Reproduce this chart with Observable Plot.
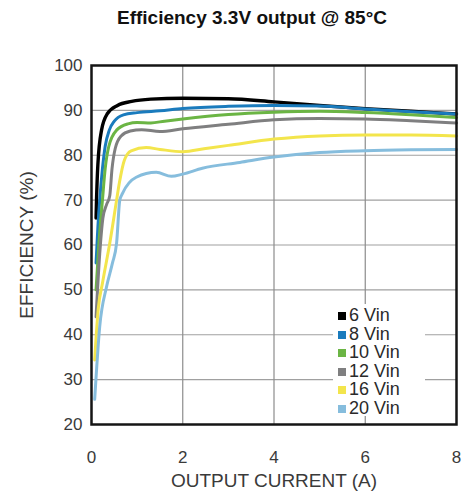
<!DOCTYPE html>
<html>
<head>
<meta charset="utf-8">
<script src="https://cdn.jsdelivr.net/npm/d3@7"></script>
<script src="https://cdn.jsdelivr.net/npm/@observablehq/plot@0.6"></script>
<style>
  html, body { margin: 0; padding: 0; background: #fff; }
  #wrap { position: relative; width: 464px; height: 500px; font-family: "Liberation Sans", Arial, sans-serif; }
  #title { height: 40px; line-height: 36px; text-align: center; font-weight: bold; font-size: 19px; color: #111; padding-left: 40px; box-sizing: border-box; }
  #legend { position: absolute; left: 333px; top: 304px; width: 92px; height: 112px; background: #fff; font-size: 18px; color: #2a2a2a; }
  #legend .row { position: absolute; left: 5px; height: 18.6px; line-height: 18.6px; white-space: nowrap; }
  #legend .sw { display: inline-block; width: 8px; height: 8px; margin-right: 3px; vertical-align: 1px; }
</style>
</head>
<body>
<div id="wrap">
  <div id="title">Efficiency 3.3V output @ 85°C</div>
  <div id="chart"></div>
  <div id="legend"></div>
</div>
<script>
// Input voltage series
const seriesNames = ["6 Vin", "8 Vin", "10 Vin", "12 Vin", "16 Vin", "20 Vin"];
const seriesColors = ["#000000", "#1a7bbd", "#6bb544", "#7f7f80", "#f3e54c", "#86bddd"];
const seriesWidths = [3.4, 3, 3, 3, 3, 3];

// Efficiency (%) vs output current (A) for each input voltage
const vin6 = [[0.1,66],[0.11,70],[0.14,78],[0.22,85.6],[0.35,89.3],[0.57,91.1],[0.88,92],[1.3,92.5],[2,92.7],[3,92.6],[4,91.9],[5,91.1],[6,90.4],[7,89.8],[8,89.2]];
const vin8 = [[0.1,56],[0.14,64],[0.18,70],[0.24,77],[0.3,82],[0.39,85.6],[0.5,87.6],[0.7,89],[1,89.5],[1.5,89.9],[2,90.4],[3,90.9],[4,91.1],[5,91],[6,90.3],[7,89.7],[8,89.2]];
const vin10 = [[0.1,50],[0.16,60],[0.24,70],[0.3,77],[0.38,82],[0.55,85.6],[0.8,87],[1,87.3],[1.3,87.2],[1.6,87.6],[2,88.1],[3,89.1],[4,89.6],[5,89.8],[6,89.5],[7,89],[8,88.4]];
const vin12 = [[0.1,44],[0.18,58],[0.25,66],[0.33,69],[0.4,71],[0.45,77],[0.52,81.5],[0.65,84.3],[0.85,85.4],[1.1,85.7],[1.5,85.3],[2,85.9],[3,86.9],[4,87.9],[5,88.2],[6,88.1],[7,87.7],[8,87.2]];
const vin16 = [[0.07,34.4],[0.15,46],[0.24,51.5],[0.4,60.4],[0.55,70],[0.61,73.8],[0.72,78.9],[0.87,81],[1.2,81.7],[1.5,81.3],[2,80.8],[2.5,81.5],[3,82.2],[4,83.6],[5,84.3],[6,84.5],[7,84.5],[8,84.3]];
const vin20 = [[0.07,25.6],[0.18,41.8],[0.33,50.7],[0.46,56],[0.55,60.4],[0.62,70],[0.68,71.5],[0.98,75.1],[1.42,76.2],[1.75,75.3],[2,75.8],[2.43,77.1],[3.25,78.4],[4,79.6],[5,80.6],[6,81],[7,81.2],[8,81.3]];

// Axis ticks
const xTicks = [0, 2, 4, 6, 8];
const yTicks = [20, 30, 40, 50, 60, 70, 80, 90, 100];

const allSeries = [vin6, vin8, vin10, vin12, vin16, vin20];
const rows = allSeries.flatMap((pts, i) => pts.map(([a, e]) => ({series: seriesNames[i], current: a, eff: e})));

const chart = Plot.plot({
  width: 464,
  height: 460,
  marginTop: 25,
  marginBottom: 76,
  marginLeft: 91,
  marginRight: 8,
  style: {fontFamily: "Liberation Sans, Arial, sans-serif", background: "#fff", color: "#3a3a3a"},
  x: {domain: [0, 8], ticks: xTicks},
  y: {domain: [20, 100], ticks: yTicks},
  color: {domain: seriesNames, range: seriesColors},
  marks: [
    Plot.gridY(yTicks.slice(1, -1), {stroke: "#a0a0a0", strokeOpacity: 1, strokeWidth: 1.2}),
    Plot.gridX(xTicks.slice(1, -1), {stroke: "#8c8c8c", strokeOpacity: 1, strokeWidth: 1.2}),
    Plot.axisY(yTicks, {tickSize: 0, tickPadding: 9, fontSize: 17, fill: "#3a3a3a",
      label: "EFFICIENCY (%)", labelAnchor: "center", labelArrow: "none", labelOffset: 72}),
    Plot.axisX(xTicks, {tickSize: 0, tickPadding: 26, fontSize: 17, fill: "#3a3a3a",
      label: "OUTPUT CURRENT (A)", labelAnchor: "center", labelArrow: "none", labelOffset: 62}),
    // 6 Vin drawn first so the other curves sit on top of it
    ...seriesNames.map((name, i) =>
      Plot.line(rows.filter(d => d.series === name), {x: "current", y: "eff", stroke: "series", strokeWidth: seriesWidths[i], curve: "monotone-x"})
    ),
    Plot.frame({stroke: "#151515", strokeWidth: 2.5})
  ]
});
// Larger type for the axis titles
chart.querySelectorAll("g[aria-label='y-axis label'] text, g[aria-label='x-axis label'] text")
  .forEach(t => t.setAttribute("font-size", 19));
document.getElementById("chart").appendChild(chart);

// Legend inside the plot area
const legend = document.getElementById("legend");
seriesNames.forEach((name, i) => {
  const row = document.createElement("div");
  row.className = "row";
  row.style.top = (2 + i * 18.6) + "px";
  const sw = document.createElement("span");
  sw.className = "sw";
  sw.style.background = seriesColors[i];
  row.appendChild(sw);
  row.appendChild(document.createTextNode(name));
  legend.appendChild(row);
});
</script>
</body>
</html>
